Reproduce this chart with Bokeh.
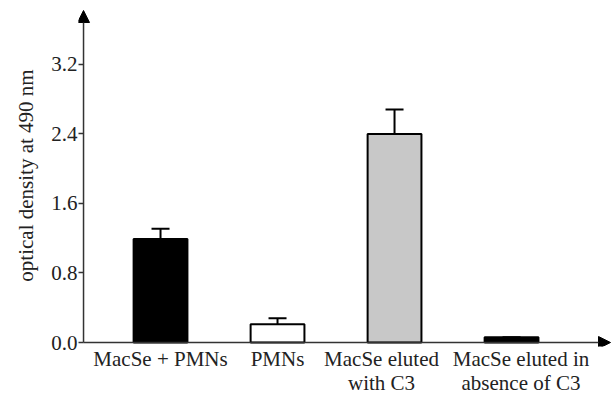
from bokeh.plotting import figure
from bokeh.models import (ColumnDataSource, Range1d, FixedTicker, LinearAxis,
                          Arrow, NormalHead, Whisker, TeeHead, NumeralTickFormatter)
from bokeh.embed import file_html
from bokeh.resources import INLINE

categories = ["MacSe + PMNs", "PMNs", "MacSe eluted\nwith C3", "MacSe eluted in\nabsence of C3"]
values = [1.19, 0.21, 2.40, 0.06]
errors = [0.12, 0.07, 0.28, 0.0]
colors = ["#000000", "#ffffff", "#c8c8c8", "#000000"]
y_ticks = [0.0, 0.8, 1.6, 2.4, 3.2]

xs = [1, 2, 3, 4]
src = ColumnDataSource(dict(x=xs, top=values, color=colors,
                            upper=[v + e for v, e in zip(values, errors)]))

# axis arrow extents (data units)
AX0, AX1 = 0.342, 4.846
AY0, AY1 = 0.0, 3.82
XR = (0.299, 4.880)
FRAME_W = 616 - 78 - 2
PX = FRAME_W / (XR[1] - XR[0])  # pixels per x unit

p = figure(width=616, height=397, output_backend="svg", toolbar_location=None,
           x_range=Range1d(*XR), y_range=Range1d(-0.046, 3.889),
           min_border_left=78, min_border_right=2, min_border_top=4, min_border_bottom=51,
           x_axis_location=None, y_axis_location=None)
p.outline_line_color = None
p.grid.visible = False
p.background_fill_color = "white"

FONT = "Liberation Serif"
TXT = "#222222"

yax = LinearAxis(ticker=FixedTicker(ticks=y_ticks), formatter=NumeralTickFormatter(format="0.0"))
yax.axis_label = "optical density at 490 nm"
yax.axis_label_text_font = FONT
yax.axis_label_text_font_size = "21px"
yax.axis_label_text_font_style = "normal"
yax.axis_label_text_color = TXT
yax.axis_label_standoff = 10
yax.major_label_text_font = FONT
yax.major_label_text_font_size = "21px"
yax.major_label_text_color = TXT
yax.major_label_standoff = 1
yax.major_tick_in = 5
yax.major_tick_out = 0
yax.minor_tick_line_color = None
yax.axis_line_color = None
yax.major_tick_line_color = "#333333"
yax.major_tick_line_width = 1.5
p.add_layout(yax, "left")

# category labels: text blocks centred a few pixels off each bar centre
label_shift_px = [0, 0, -13, 9.5]
label_pos = [x + d / PX for x, d in zip(xs, label_shift_px)]
xax = LinearAxis(ticker=FixedTicker(ticks=label_pos))
xax.major_label_overrides = {pos: c for pos, c in zip(label_pos, categories)}
xax.major_label_text_font = FONT
xax.major_label_text_font_size = "21px"
xax.major_label_text_color = TXT
xax.major_label_text_line_height = 1.0
xax.major_label_standoff = 0
xax.major_tick_in = 0
xax.major_tick_out = 0
xax.major_tick_line_color = None
xax.minor_tick_line_color = None
xax.axis_line_color = None
p.add_layout(xax, "below")

p.vbar(x="x", top="top", bottom=0, width=0.46, fill_color="color",
       line_color="black", line_width=2, source=src)

p.add_layout(Whisker(base="x", lower="top", upper="upper", source=src,
                     line_color="black", line_width=2,
                     upper_head=TeeHead(size=18, line_width=2, line_color="black"),
                     lower_head=None))

p.add_layout(Arrow(x_start=AX0, y_start=AY0, x_end=AX0, y_end=AY1,
                   line_color="#333333", line_width=1.5,
                   end=NormalHead(size=12, fill_color="black", line_color="black")))
p.add_layout(Arrow(x_start=AX0, y_start=AY0, x_end=AX1, y_end=AY0,
                   line_color="#333333", line_width=1.5,
                   end=NormalHead(size=12, fill_color="black", line_color="black")))

open("out.html", "w").write(file_html(p, INLINE))
